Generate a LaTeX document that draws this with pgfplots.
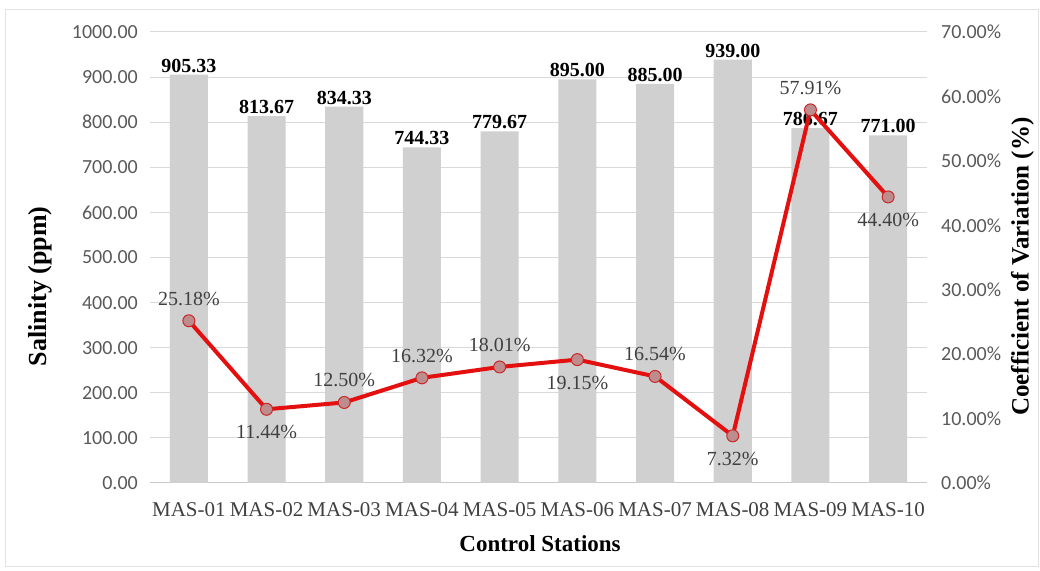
\documentclass[border=0pt]{standalone}
\usepackage{pgfplots}
\pgfplotsset{compat=1.18}
\usepackage{pgfplotstable}
\usepackage{fontspec}
\setmainfont{Liberation Serif}
\newfontfamily\ticksans{Carlito}

\definecolor{bargray}{RGB}{208,208,208}
\definecolor{gridgray}{RGB}{217,217,217}
\definecolor{axisgray}{RGB}{200,200,200}
\definecolor{ticktext}{RGB}{89,89,89}
\definecolor{cattext}{RGB}{64,64,64}
\definecolor{cvtext}{RGB}{64,64,64}
\definecolor{cvred}{RGB}{228,16,16}
\definecolor{markfill}{RGB}{190,140,140}
\definecolor{markedge}{RGB}{200,40,40}
\definecolor{framegray}{RGB}{226,226,226}

% mean salinity per control station (ppm)
\pgfplotstableread{
x sal
0 905.33
1 813.67
2 834.33
3 744.33
4 779.67
5 895.00
6 885.00
7 939.00
8 786.67
9 771.00
}\saltable

% coefficient of variation (%)
\pgfplotstableread{
x cv
0 25.18
1 11.44
2 12.50
3 16.32
4 18.01
5 19.15
6 16.54
7 7.32
8 57.91
9 44.40
}\cvtable

\newcommand{\lblfont}{\fontsize{20bp}{24bp}\selectfont}
\newcommand{\numfont}{\ticksans\fontsize{20bp}{24bp}\selectfont}

\pgfplotsset{
  base/.style={
    scale only axis,
    width=777bp, height=451bp,
    at={(150bp,88bp)}, anchor=south west,
    xmin=-0.5, xmax=9.5, ymin=0,
    clip=false,
    major tick length=0pt,
    tick style={draw=none},
    scaled y ticks=false,
    /pgf/number format/assume math mode=true,
    /pgf/number format/1000 sep={},
  },
}

\begin{document}
\begin{tikzpicture}
\path[use as bounding box] (0,0) rectangle (1040bp,571bp);
\draw[framegray, line width=1bp] (5bp,4bp) rectangle (1038bp,561bp);

% salinity bars, left axis
\begin{axis}[base,
  ymax=1000, ytick={0,100,...,1000},
  ymajorgrids, grid style={gridgray, line width=1bp},
  axis x line*=bottom, axis y line*=left,
  x axis line style={axisgray, line width=1bp},
  y axis line style={draw=none},
  xtick={0,...,9},
  xticklabels={MAS-01,MAS-02,MAS-03,MAS-04,MAS-05,MAS-06,MAS-07,MAS-08,MAS-09,MAS-10},
  xticklabel style={font=\fontsize{21bp}{24bp}\selectfont, text=cattext, inner sep=0pt, yshift=-19bp},
  yticklabel={\pgfmathprintnumber[fixed,fixed zerofill,precision=2]{\tick}},
  yticklabel style={font=\numfont, text=ticktext, inner sep=0pt, xshift=-12bp},
  xlabel={Control Stations},
  xlabel style={font=\bfseries\fontsize{23bp}{28bp}\selectfont, at={(axis description cs:0.502,-0.135)}, anchor=center},
  ylabel={Salinity (ppm)},
  ylabel style={font=\bfseries\fontsize{26bp}{30bp}\selectfont, at={(axis description cs:-0.141,0.436)}, anchor=center},
]
\addplot[ybar, bar width=0.49, fill=bargray, draw=none,
  nodes near coords={\pgfmathprintnumber[fixed,fixed zerofill,precision=2]{\pgfplotspointmeta}},
  nodes near coords style={font=\bfseries\lblfont, text=black, anchor=south, inner sep=2bp},
] table[x=x, y=sal] {\saltable};
\end{axis}

% coefficient of variation line, right axis
\begin{axis}[base,
  ymax=70, ytick={0,10,...,70},
  axis x line=none, axis y line*=right,
  y axis line style={draw=none},
  yticklabel={\pgfmathprintnumber[fixed,fixed zerofill,precision=2]{\tick}\%},
  yticklabel style={font=\numfont, text=ticktext, inner sep=0pt, xshift=14bp},
  ylabel={Coefficient of Variation (\%)},
  ylabel style={font=\bfseries\fontsize{25bp}{30bp}\selectfont, at={(axis description cs:1.123,0.48)}, anchor=center},
]
\addplot[cvred, line width=4bp,
  mark=*, mark size=6bp,
  mark options={fill=markfill, draw=markedge, line width=1bp},
  nodes near coords={\pgfmathprintnumber[fixed,fixed zerofill,precision=2]{\pgfplotspointmeta}\%},
  nodes near coords style={font=\lblfont, text=cvtext, anchor=center, yshift=22bp, inner sep=1bp},
  coordinate style/.condition={\coordindex==1 || \coordindex==5 || \coordindex==7 || \coordindex==9}{yshift=-45bp},
] table[x=x, y=cv] {\cvtable};
\end{axis}
\end{tikzpicture}
\end{document}
